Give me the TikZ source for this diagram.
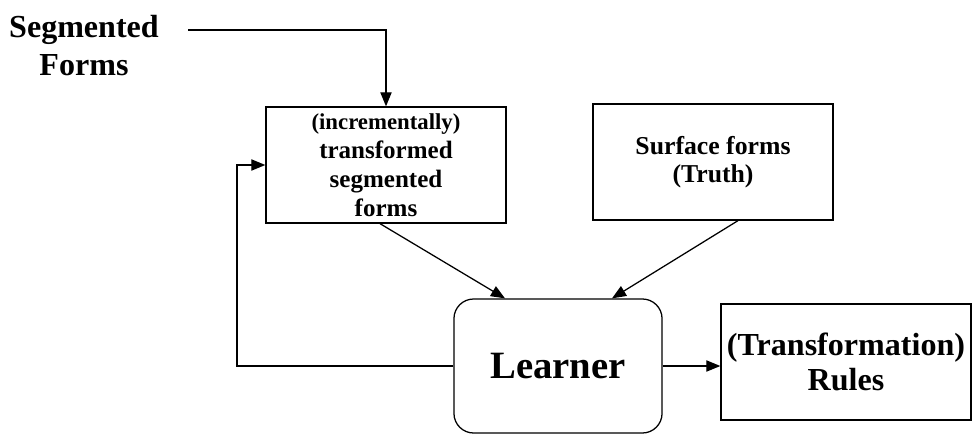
\documentclass[tikz,border=0pt]{standalone}
\usepackage{fontspec}
\setmainfont{Liberation Serif}
\usetikzlibrary{arrows.meta,calc}

\begin{document}
\begin{tikzpicture}[x=0.025cm,y=-0.025cm,line width=0.9pt,
    arr/.style={-{Triangle[length=10pt,width=8pt]}},
    box/.style={draw,rectangle,align=center,inner sep=2pt,font=\bfseries}]
  \tikzstyle{every node}=[font=\bfseries]
  \useasboundingbox (0,0) rectangle (974,434);

  \node[align=center,font=\bfseries\fontsize{22.8}{27}\selectfont] (seg) at (84,46) {Segmented\\Forms};
  \node[box,minimum width=170.7pt,minimum height=82.5pt,font=\bfseries\fontsize{17.8}{20.6}\selectfont] (trans) at (386,165)
    {{\fontsize{16.2}{20.6}\selectfont (incrementally)}\\transformed\\segmented\\forms};
  \node[box,minimum width=170.7pt,minimum height=82.5pt,font=\bfseries\fontsize{18.3}{20}\selectfont] (surf) at (713,162)
    {\raisebox{3pt}{Surface forms}\\\raisebox{3pt}{(Truth)}};
  \node[box,rounded corners=14pt,minimum width=148pt,minimum height=95.3pt,font=\bfseries\fontsize{27.5}{30}\selectfont] (learner) at (558,366) {Learner};
  \node[box,minimum width=177.8pt,minimum height=82.5pt,font=\bfseries\fontsize{22.8}{25}\selectfont] (rules) at (846,362)
    {(Transformation)\\Rules};

  \coordinate (seg-out) at (188,30);
  \coordinate (fb) at (237,366);

  \draw[arr] (seg-out) -| (trans);
  \draw[arr] ($(trans.south)+(-6,0)$) -- ($(learner.north)+(-53,0)$);
  \draw[arr] ($(surf.south)+(25,0)$) -- ($(learner.north)+(54,0)$);
  \draw[arr] (learner.west) -- (fb) |- (trans.west);
  \draw[arr] (learner.east) -- (learner.east -| rules.west);
\end{tikzpicture}
\end{document}
